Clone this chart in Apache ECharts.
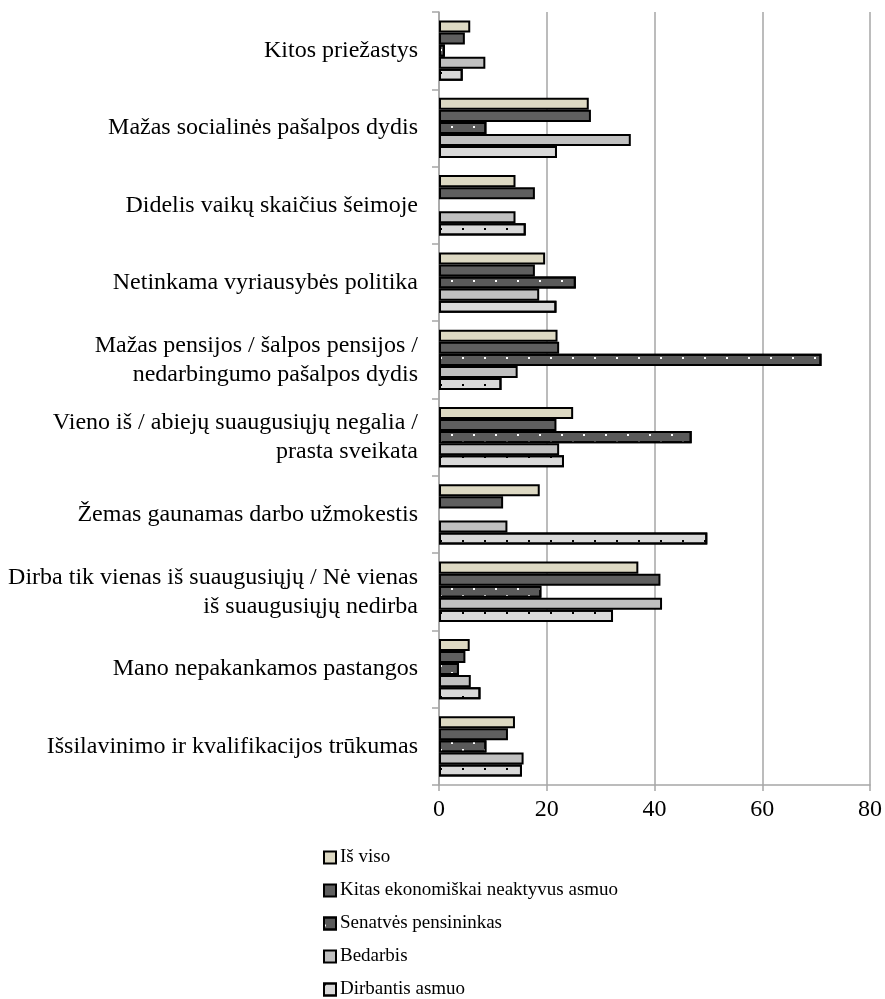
<!DOCTYPE html>
<html>
<head>
<meta charset="utf-8">
<script src="https://cdn.jsdelivr.net/npm/echarts@6/dist/echarts.min.js"></script>
<style>
  html, body { margin: 0; padding: 0; background: #fff; }
  #chart { width: 885px; height: 999px; }
</style>
</head>
<body>
<div id="chart"></div>
<script>
// kategorijos (iš viršaus į apačią)
const categories = [
  'Kitos priežastys',
  'Mažas socialinės pašalpos dydis',
  'Didelis vaikų skaičius šeimoje',
  'Netinkama vyriausybės politika',
  'Mažas pensijos / šalpos pensijos /\nnedarbingumo pašalpos dydis',
  'Vieno iš / abiejų suaugusiųjų negalia /\nprasta sveikata',
  'Žemas gaunamas darbo užmokestis',
  'Dirba tik vienas iš suaugusiųjų / Nė vienas\niš suaugusiųjų nedirba',
  'Mano nepakankamos pastangos',
  'Išsilavinimo ir kvalifikacijos trūkumas'
]
const seriesNames = ['Iš viso', 'Kitas ekonomiškai neaktyvus asmuo', 'Senatvės pensininkas', 'Bedarbis', 'Dirbantis asmuo']
const isViso = [5.8, 27.8, 14.2, 19.7, 22.0, 24.9, 18.7, 37.0, 5.7, 14.1]
const kitas = [4.8, 28.2, 17.8, 17.8, 22.3, 21.8, 11.9, 41.1, 4.9, 12.8]
const senatves = [1.1, 8.8, null, 25.4, 71.0, 46.9, null, 19.0, 3.7, 8.8]
const bedarbis = [8.6, 35.6, 14.2, 18.6, 14.6, 22.3, 12.7, 41.4, 5.9, 15.7]
const dirbantis = [4.4, 21.9, 16.1, 21.8, 11.6, 23.2, 49.8, 32.3, 7.7, 15.4]
const xTicks = [0, 20, 40, 60, 80]

const font = 'Liberation Serif'
const chart = echarts.init(document.getElementById('chart'))

const styles = [
  { color: '#ddd9c3' },
  { color: '#5f5f5f' },
  {
    color: '#5a5a5a',
    decal: { symbol: 'rect', symbolSize: 1, color: '#ffffff', dashArrayX: [[2, 20], [0, 11, 2, 9]], dashArrayY: [2, 4.5] }
  },
  { color: '#c0c0c0' },
  {
    color: '#d9d9d9',
    decal: { symbol: 'rect', symbolSize: 1, color: '#000000', dashArrayX: [2, 20], dashArrayY: [2, 10] }
  }
]
const values = [isViso, kitas, senatves, bedarbis, dirbantis]

chart.setOption({
  animation: false,
  grid: { left: 439, right: 14, top: 12, bottom: 214 },
  legend: {
    orient: 'vertical',
    left: 323,
    top: 848,
    height: 170,
    padding: 0,
    itemWidth: 12,
    itemHeight: 12,
    itemGap: 14,
    icon: 'rect',
    data: seriesNames,
    textStyle: { fontFamily: font, fontSize: 19, color: '#000', padding: [0, 0, 0, -1] },
    itemStyle: { borderColor: '#000', borderWidth: 2 }
  },
  xAxis: {
    type: 'value',
    min: 0,
    max: 80,
    interval: 20,
    axisLine: { show: true, lineStyle: { color: '#a6a6a6', width: 1.5 } },
    axisTick: { show: true, length: 6, lineStyle: { color: '#a6a6a6', width: 1.5 } },
    axisLabel: {
      fontFamily: font, fontSize: 24, color: '#000', margin: 13,
      formatter: v => (xTicks.includes(v) ? String(v) : '')
    },
    splitLine: { show: true, lineStyle: { color: '#a6a6a6', width: 1.5 } }
  },
  yAxis: {
    type: 'category',
    inverse: true,
    data: categories,
    axisLine: { show: true, lineStyle: { color: '#a6a6a6', width: 1.5 } },
    axisTick: { show: true, length: 7, lineStyle: { color: '#a6a6a6', width: 1.5 } },
    axisLabel: { fontFamily: font, fontSize: 24, color: '#000', margin: 21, lineHeight: 29, align: 'right' }
  },
  series: seriesNames.map((name, i) => ({
    name: name,
    type: 'bar',
    data: values[i],
    barGap: '0%',
    barCategoryGap: '22%',
    itemStyle: Object.assign({ borderColor: '#000', borderWidth: 2 }, styles[i])
  }))
})
</script>
</body>
</html>
